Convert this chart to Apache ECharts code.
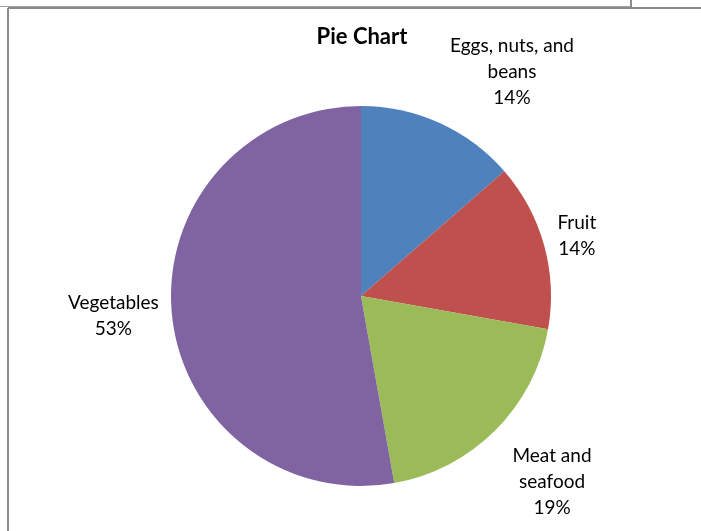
<!DOCTYPE html>
<html>
<head>
<meta charset="utf-8">
<script src="https://cdn.jsdelivr.net/npm/echarts@6/dist/echarts.min.js"></script>
<style>
html,body{margin:0;padding:0;background:#fff;}
#c{width:701px;height:531px;}
</style>
</head>
<body>
<div id="c"></div>
<script>
var titleText = 'Pie Chart';
var categories = ['Eggs, nuts, and beans', 'Fruit', 'Meat and seafood', 'Vegetables'];
var labelNames = ['Eggs, nuts, and\nbeans', 'Fruit', 'Meat and\nseafood', 'Vegetables'];
var values = [13.6, 14.2, 19.4, 52.8];
var colors = ['#4F81BD', '#C0504D', '#9BBB59', '#8064A2'];

var labelAdjust = [[-3, -33], [-11, -4], [-2, 37], [12, 1]];

var chart = echarts.init(document.getElementById('c'), null, {renderer: 'canvas'});
var total = values.reduce(function (a, b) { return a + b; }, 0);
var data = categories.map(function (c, i) {
  return { name: c, value: values[i], itemStyle: { color: colors[i] } };
});

chart.setOption({
  animation: false,
  backgroundColor: '#ffffff',
  title: {
    text: titleText,
    left: 362,
    top: 26,
    padding: 0,
    textAlign: 'center',
    textStyle: { fontFamily: 'Lato', fontWeight: 'bold', fontSize: 22, color: '#000' }
  },
  graphic: [
    { type: 'line', shape: { x1: 0, y1: 6.5, x2: 631, y2: 6.5 }, style: { stroke: '#a0a0a0', lineWidth: 1 } },
    { type: 'line', shape: { x1: 631, y1: 0, x2: 631, y2: 8 }, style: { stroke: '#8a8a8a', lineWidth: 2 } },
    { type: 'line', shape: { x1: 8, y1: 8, x2: 701, y2: 8 }, style: { stroke: '#8a8a8a', lineWidth: 2 } },
    { type: 'line', shape: { x1: 8, y1: 8, x2: 8, y2: 531 }, style: { stroke: '#8a8a8a', lineWidth: 2 } }
  ],
  series: [{
    type: 'pie',
    center: [361, 296],
    radius: 190,
    startAngle: 90,
    clockwise: true,
    avoidLabelOverlap: false,
    data: data,
    itemStyle: { borderWidth: 0 },
    label: {
      show: true,
      position: 'outside',
      fontFamily: 'Lato',
      fontSize: 19,
      lineHeight: 26,
      color: '#000',
      formatter: function (p) {
        return labelNames[p.dataIndex] + '\n' + Math.round(p.value / total * 100) + '%';
      }
    },
    labelLine: { show: false, length: 20, length2: 0 },
    labelLayout: function (p) {
      var adj = labelAdjust[p.dataIndex];
      var r = p.labelRect;
      return {
        x: r.x + r.width / 2 + adj[0],
        y: r.y + r.height / 2 + adj[1],
        align: 'center',
        verticalAlign: 'middle'
      };
    },
    emphasis: { disabled: true }
  }]
});
</script>
</body>
</html>
